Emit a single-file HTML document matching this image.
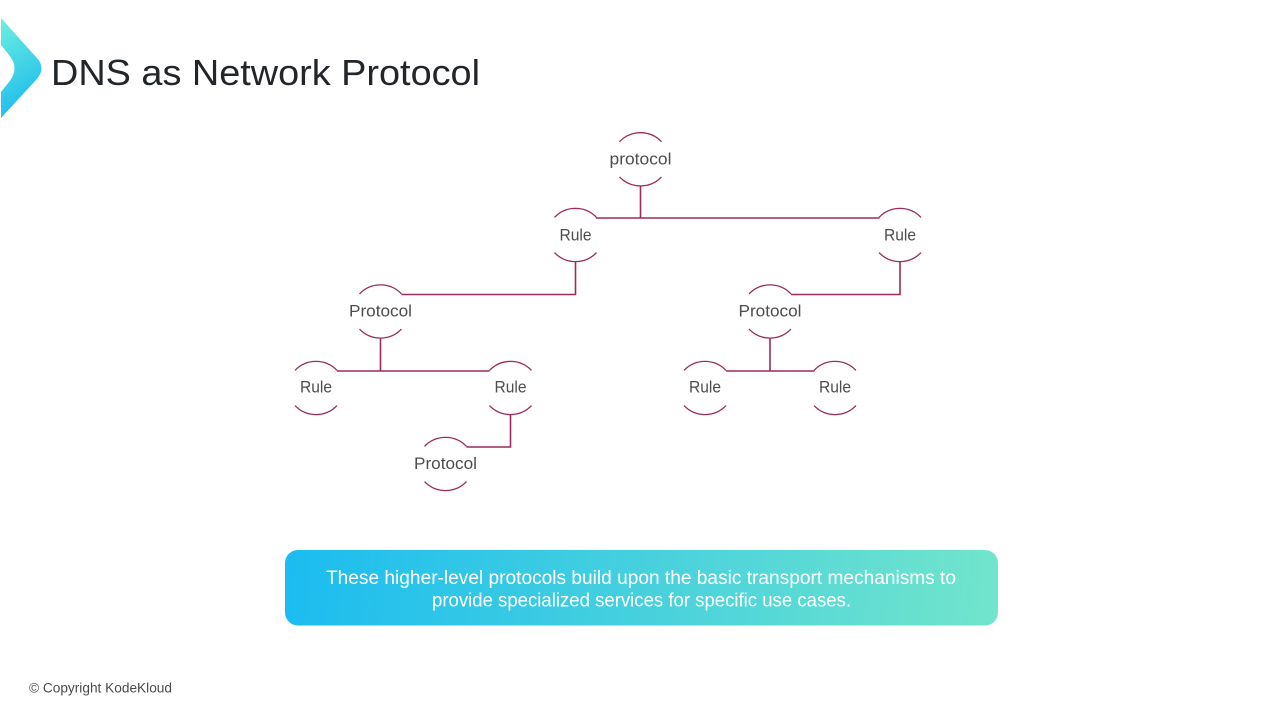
<!DOCTYPE html>
<html lang="en">
<head>
<meta charset="utf-8">
<title>DNS as Network Protocol</title>
<style>
html,body{margin:0;padding:0;background:#fff;width:1280px;height:720px;overflow:hidden}
svg{display:block}
text{font-family:"Liberation Sans",sans-serif}
.l{font-size:17px;fill:#4d4d4d;text-anchor:middle}
.a{fill:none;stroke:#9c2b5c;stroke-width:1.3}
.c{fill:none;stroke:#9c2b5c;stroke-width:1.6}
</style>
</head>
<body>
<svg width="1280" height="720" viewBox="0 0 1280 720" xmlns="http://www.w3.org/2000/svg">
<defs>
<linearGradient id="lg" x1="0" y1="0" x2="0.25" y2="1">
<stop offset="0" stop-color="#6ef0e0"/>
<stop offset="1" stop-color="#1fbcec"/>
</linearGradient>
<linearGradient id="bg" gradientUnits="userSpaceOnUse" x1="285" y1="560" x2="998" y2="615">
<stop offset="0" stop-color="#1bbcf0"/>
<stop offset="1" stop-color="#72e5cb"/>
</linearGradient>
<path id="n" d="M-21 -17.6A29 29 0 0 1 21 -17.6M-21 17.6A29 29 0 0 0 21 17.6"/>
</defs>

<path d="M1 18L36 57Q47 68 36 80L1 118V92L9 82Q20 68 9 55L1 45Z" fill="url(#lg)"/>
<text x="51" y="85" font-size="36" fill="#222529" textLength="429" lengthAdjust="spacingAndGlyphs">DNS as Network Protocol</text>

<g class="c">
<path d="M640.5 186V218M596 218H879.500"/>
<path d="M575.5 262V294.5H401.500"/>
<path d="M900 262V294.5H791"/>
<path d="M380.5 338V371M337 371H489.500"/>
<path d="M770 338V371M726 371H814.500"/>
<path d="M510.500 414V447H466.500"/>
</g>

<g class="a">
<use href="#n" x="640.5" y="159.300"/>
<use href="#n" x="575.5" y="235"/>
<use href="#n" x="900" y="235"/>
<use href="#n" x="380.5" y="311.500"/>
<use href="#n" x="770" y="311.500"/>
<use href="#n" x="316" y="388"/>
<use href="#n" x="510.5" y="388"/>
<use href="#n" x="705" y="388"/>
<use href="#n" x="835" y="388"/>
<use href="#n" x="445.500" y="464"/>
</g>

<text class="l" x="640.5" y="164.500" textLength="62" lengthAdjust="spacingAndGlyphs">protocol</text>
<text class="l" x="575.5" y="240.500" textLength="32" lengthAdjust="spacingAndGlyphs">Rule</text>
<text class="l" x="900" y="240.500" textLength="32" lengthAdjust="spacingAndGlyphs">Rule</text>
<text class="l" x="380.5" y="316.500" textLength="63" lengthAdjust="spacingAndGlyphs">Protocol</text>
<text class="l" x="770" y="316.500" textLength="63" lengthAdjust="spacingAndGlyphs">Protocol</text>
<text class="l" x="316" y="392.500" textLength="32" lengthAdjust="spacingAndGlyphs">Rule</text>
<text class="l" x="510.5" y="392.500" textLength="32" lengthAdjust="spacingAndGlyphs">Rule</text>
<text class="l" x="705" y="392.500" textLength="32" lengthAdjust="spacingAndGlyphs">Rule</text>
<text class="l" x="835" y="392.500" textLength="32" lengthAdjust="spacingAndGlyphs">Rule</text>
<text class="l" x="445.5" y="469" textLength="63" lengthAdjust="spacingAndGlyphs">Protocol</text>

<rect x="285" y="550" width="713" height="75.500" rx="13" fill="url(#bg)"/>
<text x="326" y="584" font-size="19.500" fill="#fff" textLength="630" lengthAdjust="spacingAndGlyphs">These higher-level protocols build upon the basic transport mechanisms to</text>
<text x="432" y="606.500" font-size="19.500" fill="#fff" textLength="419" lengthAdjust="spacingAndGlyphs">provide specialized services for specific use cases.</text>

<text x="29" y="692.500" font-size="13.500" fill="#4a4a4a" textLength="143" lengthAdjust="spacingAndGlyphs">© Copyright KodeKloud</text>
</svg>
</body>
</html>
